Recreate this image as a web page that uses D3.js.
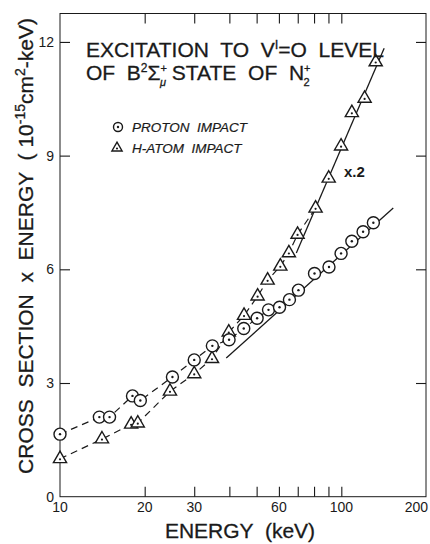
<!DOCTYPE html>
<html>
<head>
<meta charset="utf-8">
<script src="https://cdn.jsdelivr.net/npm/d3@7"></script>
<style>
  body { margin: 0; background: #fff; }
  svg { display: block; font-family: "Liberation Sans", Arial, sans-serif; }
</style>
</head>
<body>
<div id="chart"></div>
<script>
// proton impact (circles)
const protonE = [10, 13.8, 15, 18.1, 19.3, 25.1, 30, 34.8, 39.9, 45, 50.2, 55.1, 60.3, 65.4, 70.4, 80.3, 90.4, 99.8, 109, 119.5, 130]
const protonY = [1.65, 2.10, 2.10, 2.66, 2.54, 3.16, 3.61, 3.98, 4.14, 4.44, 4.71, 4.93, 5.00, 5.20, 5.45, 5.89, 6.06, 6.42, 6.74, 6.99, 7.23]
// H-atom impact (triangles)
const atomE = [10, 14.1, 17.9, 18.9, 24.6, 30, 34.7, 39.8, 45.1, 50.4, 54.7, 60.7, 65.1, 69.9, 81, 90.2, 99.8, 109, 121, 132.5]
const atomY = [1.00, 1.52, 1.91, 1.94, 2.78, 3.24, 3.64, 4.34, 4.78, 5.29, 5.71, 6.08, 6.43, 6.92, 7.61, 8.40, 9.25, 10.13, 10.51, 11.47]
// straight fit lines (end points)
const protonFitE = [39, 153]
const protonFitY = [3.66, 7.62]
const atomFitE = [69.2, 142]
const atomFitY = [6.43, 11.83]

const xTicks = [20, 30, 40, 50, 60, 70, 80, 90, 100]
const xLabels = [10, 20, 30, 60, 100, 200]
const yTicks = [3, 6, 9, 12]
const yLabels = [0, 3, 6, 9, 12]

const W = 430, H = 544
const plotL = 60, plotR = 426, plotT = 13.5, plotB = 496.7
const ink = "#1a1a1a"

const svg = d3.select("#chart").append("svg")
    .attr("width", W).attr("height", H)

const x = d3.scaleLog().domain([10, 200]).range([plotL, plotR])
const y = d3.scaleLinear().domain([0, 12.75]).range([plotB, plotT])

// frame
svg.append("rect")
    .attr("x", plotL).attr("y", plotT)
    .attr("width", plotR - plotL).attr("height", plotB - plotT)
    .attr("fill", "none").attr("stroke", ink).attr("stroke-width", 1)

// inward ticks on all four sides
svg.append("g").attr("transform", `translate(0,${plotB})`)
    .call(d3.axisTop(x).tickValues(xTicks).tickSize(10).tickFormat(""))
svg.append("g").attr("transform", `translate(0,${plotT})`)
    .call(d3.axisBottom(x).tickValues(xTicks).tickSize(10).tickFormat(""))
svg.append("g").attr("transform", `translate(${plotL},0)`)
    .call(d3.axisRight(y).tickValues(yTicks).tickSize(10).tickFormat(""))
svg.append("g").attr("transform", `translate(${plotR},0)`)
    .call(d3.axisLeft(y).tickValues(yTicks).tickSize(10).tickFormat(""))
svg.selectAll(".domain").remove()
svg.selectAll(".tick line").attr("stroke", ink).attr("stroke-width", 1.1)

// tick labels (last one sits flush with the frame's right edge)
svg.append("g").selectAll("text").data(xLabels).enter().append("text")
    .attr("x", d => d == 200 ? plotR + 2 : x(d)).attr("y", plotB + 15)
    .attr("text-anchor", d => d == 200 ? "end" : "middle")
    .style("font-size", "14px").attr("fill", ink)
    .text(d => d)
svg.append("g").selectAll("text").data(yLabels).enter().append("text")
    .attr("x", plotL - 6).attr("y", d => y(d) + 5)
    .attr("text-anchor", "end")
    .style("font-size", "14px").attr("fill", ink)
    .text(d => d)

// axis titles
svg.append("text")
    .attr("x", 240).attr("y", 538)
    .attr("text-anchor", "middle")
    .style("font-size", "21px").attr("fill", ink)
    .attr("stroke", ink).attr("stroke-width", 0.3)
    .attr("xml:space", "preserve")
    .text("ENERGY  (keV)")

const yl = svg.append("text")
    .attr("transform", "translate(33,246) rotate(-90)")
    .attr("text-anchor", "middle")
    .style("font-size", "21px").attr("fill", ink)
    .attr("stroke", ink).attr("stroke-width", 0.3)
    .attr("xml:space", "preserve")
yl.append("tspan").text("CROSS  SECTION  x  ENERGY  ( 10")
yl.append("tspan").attr("dy", -8).style("font-size", "14px").text("-15")
yl.append("tspan").attr("dy", 8).text("cm")
yl.append("tspan").attr("dy", -8).style("font-size", "14px").text("2")
yl.append("tspan").attr("dy", 8).text("-keV)")

// connecting dashed curves
const line = d3.line().x(d => x(d[0])).y(d => y(d[1]))
const protonPts = protonE.map((e, i) => [e, protonY[i]])
const atomPts = atomE.map((e, i) => [e, atomY[i]])

svg.append("path")
    .attr("d", line(protonPts.filter(d => d[0] <= 71)))
    .attr("fill", "none").attr("stroke", ink).attr("stroke-width", 1.2)
    .attr("stroke-dasharray", "7,5")
svg.append("path")
    .attr("d", line(atomPts.filter(d => d[0] <= 82)))
    .attr("fill", "none").attr("stroke", ink).attr("stroke-width", 1.2)
    .attr("stroke-dasharray", "7,5")

// solid fit lines
svg.append("path")
    .attr("d", line(protonFitE.map((e, i) => [e, protonFitY[i]])))
    .attr("fill", "none").attr("stroke", ink).attr("stroke-width", 1.3)
svg.append("path")
    .attr("d", line(atomFitE.map((e, i) => [e, atomFitY[i]])))
    .attr("fill", "none").attr("stroke", ink).attr("stroke-width", 1.3)

// markers
const tri = d3.symbol().type(d3.symbolTriangle)

function circleMark(g, cx, cy, r) {
    g.append("circle").attr("cx", cx).attr("cy", cy).attr("r", r)
        .attr("fill", "#fff").attr("stroke", ink).attr("stroke-width", 1.4)
    g.append("circle").attr("cx", cx).attr("cy", cy).attr("r", 1.2).attr("fill", ink)
}
function triMark(g, cx, cy, size) {
    g.append("path").attr("d", tri.size(size)())
        .attr("transform", `translate(${cx},${cy})`)
        .attr("fill", "#fff").attr("stroke", ink).attr("stroke-width", 1.4)
    g.append("circle").attr("cx", cx).attr("cy", cy + 0.5).attr("r", 1.1).attr("fill", ink)
}

const marks = svg.append("g")
atomPts.forEach(d => triMark(marks, x(d[0]), y(d[1]), 75))
protonPts.forEach(d => circleMark(marks, x(d[0]), y(d[1]), 6))

// legend
circleMark(svg, 118, 127, 4.5)
triMark(svg, 117, 148, 45)
svg.append("text").attr("x", 132).attr("y", 132)
    .style("font-size", "13.5px").style("font-style", "italic").attr("fill", ink)
    .attr("stroke", ink).attr("stroke-width", 0.2)
    .attr("xml:space", "preserve")
    .text("PROTON  IMPACT")
svg.append("text").attr("x", 132).attr("y", 153)
    .style("font-size", "13.5px").style("font-style", "italic").attr("fill", ink)
    .attr("stroke", ink).attr("stroke-width", 0.2)
    .attr("xml:space", "preserve")
    .text("H-ATOM  IMPACT")

svg.append("text").attr("x", 344).attr("y", 177)
    .style("font-size", "15px").style("font-weight", "bold").attr("fill", ink)
    .text("x.2")

// title
const t1 = svg.append("text").attr("x", 86).attr("y", 57)
    .style("font-size", "21px").attr("fill", ink)
    .attr("stroke", ink).attr("stroke-width", 0.3)
    .attr("xml:space", "preserve")
t1.append("tspan").text("EXCITATION  TO  V")
t1.append("tspan").attr("dy", -8).style("font-size", "13px").text("I")
t1.append("tspan").attr("dy", 8).text("=O  LEVEL")

const t2 = svg.append("text").attr("x", 86).attr("y", 80)
    .style("font-size", "21px").attr("fill", ink)
    .attr("stroke", ink).attr("stroke-width", 0.3)
    .attr("xml:space", "preserve")
t2.append("tspan").text("OF  B")
t2.append("tspan").attr("dy", -8).style("font-size", "12px").text("2")
t2.append("tspan").attr("dy", 8).text("Σ")
t2.append("tspan").attr("dy", -8).style("font-size", "11px").text("+")
t2.append("tspan").attr("dx", -7).attr("dy", 14).style("font-size", "11px").style("font-style", "italic").text("μ")
t2.append("tspan").attr("dy", -6).text(" STATE  OF  N")
t2.append("tspan").attr("dy", -8).style("font-size", "11px").text("+")
t2.append("tspan").attr("dx", -7).attr("dy", 14).style("font-size", "11px").text("2")
</script>
</body>
</html>
